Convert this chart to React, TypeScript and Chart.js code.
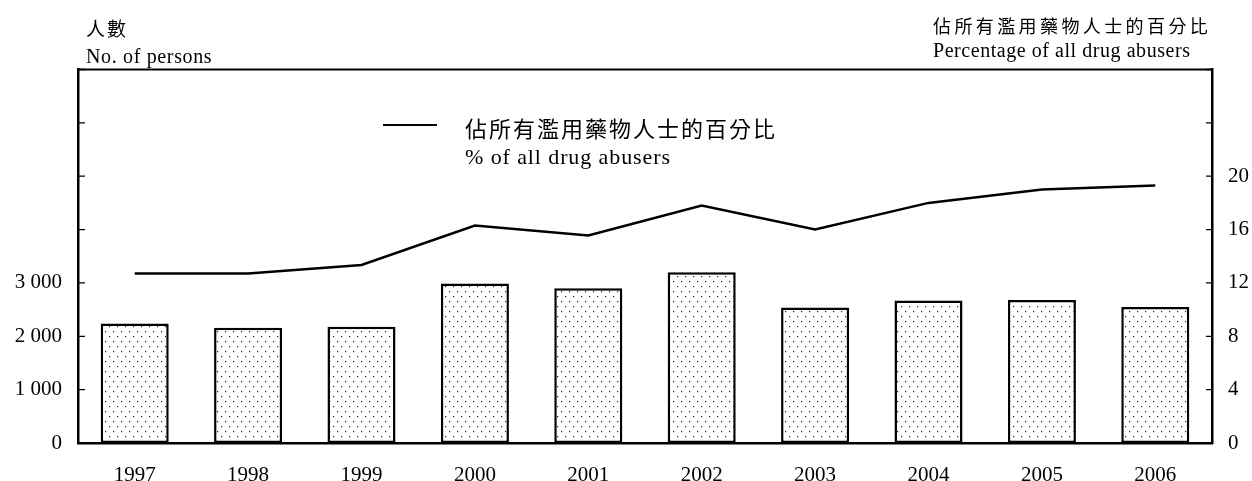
import React, { useEffect, useRef } from "react";
import { Chart, registerables } from "chart.js";

Chart.register(...registerables);

const years = ["1997", "1998", "1999", "2000", "2001", "2002", "2003", "2004", "2005", "2006"];
const persons = [2240, 2160, 2180, 2990, 2900, 3200, 2540, 2670, 2680, 2550];
const percentage = [12.7, 12.7, 13.35, 16.3, 15.55, 17.8, 16.0, 18.0, 19.0, 19.3];
const leftTicks = [0, 1000, 2000, 3000, 4000, 5000, 6000, 7000];
const leftLabelled = [0, 1000, 2000, 3000];
const rightTicks = [0, 4, 8, 12, 16, 20, 24, 28];
const rightLabelled = [0, 4, 8, 12, 16, 20];

const SERIF = "'Liberation Serif', 'Times New Roman', serif";
const CJK = "'Noto Sans CJK TC', 'Noto Sans CJK SC', sans-serif";

function makePattern(): CanvasPattern | string {
  const c = document.createElement("canvas");
  c.width = 8;
  c.height = 10;
  const g = c.getContext("2d");
  if (!g) return "#fff";
  g.fillStyle = "#fff";
  g.fillRect(0, 0, 8, 10);
  g.fillStyle = "#222";
  g.fillRect(1, 1, 1.2, 1.2);
  g.fillRect(5, 6, 1.2, 1.2);
  const p = g.createPattern(c, "repeat");
  return p || "#fff";
}

const framePlugin = {
  id: "frame",
  afterDraw(chart: any) {
    const { ctx, chartArea: a, scales } = chart;
    ctx.save();
    ctx.strokeStyle = "#000";
    ctx.lineWidth = 2;
    ctx.beginPath();
    ctx.moveTo(a.left - 1, a.top);
    ctx.lineTo(a.right + 1, a.top);
    ctx.stroke();
    ctx.lineWidth = 1.3;
    ctx.beginPath();
    leftTicks.forEach((v) => {
      const py = scales.y.getPixelForValue(v);
      ctx.moveTo(a.left, py);
      ctx.lineTo(a.left + 7, py);
    });
    rightTicks.forEach((v) => {
      const py = scales.y1.getPixelForValue(v);
      ctx.moveTo(a.right, py);
      ctx.lineTo(a.right - 6, py);
    });
    ctx.stroke();
    ctx.restore();
  },
};

export default function App() {
  const ref = useRef<HTMLCanvasElement | null>(null);

  useEffect(() => {
    if (!ref.current) return;
    const pattern = makePattern();
    const chart = new Chart(ref.current, {
      type: "bar",
      data: {
        labels: years,
        datasets: [
          {
            type: "line",
            label: "% of all drug abusers",
            data: percentage,
            yAxisID: "y1",
            borderColor: "#000",
            borderWidth: 2.5,
            pointRadius: 0,
            tension: 0,
            fill: false,
          } as any,
          {
            type: "bar",
            label: "No. of persons",
            data: persons,
            yAxisID: "y",
            backgroundColor: pattern as any,
            borderColor: "#000",
            borderWidth: 2.5,
            borderSkipped: false,
            barPercentage: 0.6,
            categoryPercentage: 1.0,
          } as any,
        ],
      },
      options: {
        responsive: false,
        animation: false,
        layout: { padding: { top: 69.5, left: 0, right: 0, bottom: 0 } },
        plugins: {
          legend: { display: false },
          tooltip: { enabled: false },
        },
        scales: {
          x: {
            offset: true,
            grid: { display: false, drawTicks: false },
            border: { display: true, color: "#000", width: 2.5 },
            ticks: {
              color: "#000",
              font: { family: SERIF, size: 21 },
              padding: 20,
              maxRotation: 0,
              autoSkip: false,
            },
            afterFit: (s: any) => {
              s.height = 38;
            },
          },
          y: {
            position: "left",
            min: 0,
            max: 7000,
            afterBuildTicks: (s: any) => {
              s.ticks = leftTicks.map((v) => ({ value: v }));
            },
            grid: { display: false, drawTicks: false },
            border: { display: true, color: "#000", width: 2.5 },
            ticks: {
              color: "#000",
              font: { family: SERIF, size: 21 },
              padding: 16,
              callback: (v: any) =>
                leftLabelled.includes(Number(v))
                  ? Number(v) === 0
                    ? "0"
                    : `${Math.floor(Number(v) / 1000)} ${String(Number(v) % 1000).padStart(3, "0")}`
                  : "",
            },
            afterFit: (s: any) => {
              s.width = 78;
            },
          },
          y1: {
            position: "right",
            min: 0,
            max: 28,
            afterBuildTicks: (s: any) => {
              s.ticks = rightTicks.map((v) => ({ value: v }));
            },
            grid: { display: false, drawTicks: false },
            border: { display: true, color: "#000", width: 2.5 },
            ticks: {
              color: "#000",
              font: { family: SERIF, size: 21 },
              padding: 16,
              callback: (v: any) => (rightLabelled.includes(Number(v)) ? String(v) : ""),
            },
            afterFit: (s: any) => {
              s.width = 40;
            },
          },
        },
      },
      plugins: [framePlugin],
    });
    return () => chart.destroy();
  }, []);

  const abs = (o: React.CSSProperties): React.CSSProperties => ({
    position: "absolute",
    whiteSpace: "nowrap",
    color: "#000",
    lineHeight: "1",
    margin: 0,
    ...o,
  });

  return (
    <div style={{ position: "fixed", left: 0, top: 0, width: 1252, height: 481, background: "#fff", overflow: "hidden" }}>
      <canvas ref={ref} width={1252} height={481} style={{ display: "block", position: "absolute", left: 0, top: 0 }} />
      <div style={abs({ left: 86, top: 18, fontFamily: CJK, fontSize: 19, letterSpacing: 2 })}>人數</div>
      <div style={abs({ left: 86, top: 46, fontFamily: SERIF, fontSize: 20, letterSpacing: 0.65 })}>No. of persons</div>
      <div style={abs({ left: 933, top: 16, fontFamily: CJK, fontSize: 18, letterSpacing: 3.4 })}>佔所有濫用藥物人士的百分比</div>
      <div style={abs({ left: 933, top: 40, fontFamily: SERIF, fontSize: 20, letterSpacing: 0.55 })}>Percentage of all drug abusers</div>
      <div style={{ position: "absolute", left: 383, top: 124, width: 54, height: 0, borderTop: "2.5px solid #000" }} />
      <div style={abs({ left: 465, top: 116, fontFamily: CJK, fontSize: 22, letterSpacing: 2 })}>佔所有濫用藥物人士的百分比</div>
      <div style={abs({ left: 465, top: 146, fontFamily: SERIF, fontSize: 22, letterSpacing: 0.9 })}>% of all drug abusers</div>
    </div>
  );
}
